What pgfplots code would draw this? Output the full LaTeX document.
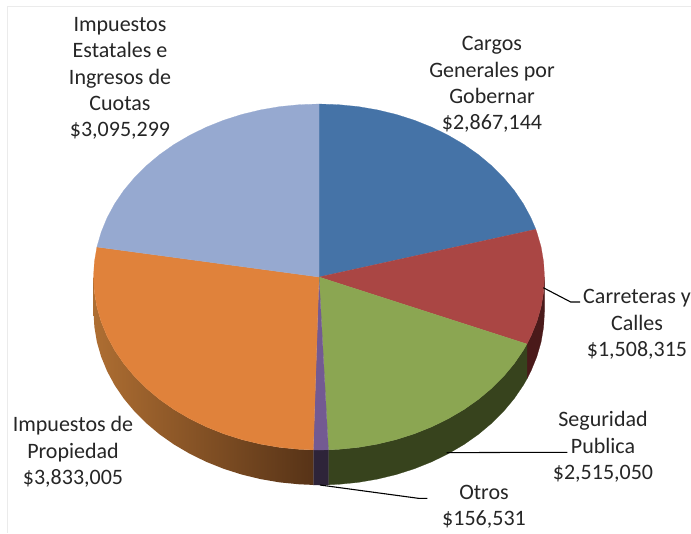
\documentclass[border=0pt]{standalone}
\usepackage{fontspec}
\setmainfont{Carlito}
\usepackage{pgfplots}
\pgfplotsset{compat=1.18}
\definecolor{cBlue}{HTML}{4573A7}
\definecolor{cRed}{HTML}{AA4644}
\definecolor{cGreen}{HTML}{8BA652}
\definecolor{cPurple}{HTML}{735A92}
\definecolor{cOrange}{HTML}{E0823B}
\definecolor{cLight}{HTML}{96A9D0}
\definecolor{sRed}{HTML}{4A1A1A}
\definecolor{sGreen}{HTML}{37431D}
\definecolor{sPurple}{HTML}{2E2439}
\definecolor{sOrL}{HTML}{AE6E32}
\definecolor{sOrM}{HTML}{8A5227}
\definecolor{sOrR}{HTML}{573317}
\definecolor{txt}{HTML}{262626}
\tikzset{lab/.style={text=txt,align=center,font=\fontsize{22}{26.4}\selectfont,inner sep=0pt}}
\begin{document}
\begin{tikzpicture}
\begin{axis}[
  width=691pt,height=533pt,scale only axis,
  xmin=0,xmax=691,ymin=0,ymax=533,y dir=reverse,
  hide axis,clip=true,
]
% canvas and faint frame
\addplot[draw=none,fill=white] coordinates {(0,0)(691,0)(691,533)(0,533)(0,0)};
\addplot[draw=black!8,line width=0.8pt] coordinates {(7.5,533)(7.5,6.5)(691,6.5)};
% sides
\addplot[draw=sRed,fill=sRed,line width=0.2pt] coordinates {
(544.5,277)(543.6,292.1)(541.1,307)(536.8,321.8)(530.9,336.2)(526.9,344)
(526.9,379)(530.9,371.2)(536.8,356.8)(541.1,342)(543.6,327.1)(544.5,312)(544.5,277)};
\addplot[draw=sGreen,fill=sGreen,line width=0.2pt] coordinates {
(526.9,344)(523.4,350.1)(514.3,363.5)(503.7,376.2)(491.7,388.2)(478.5,399.3)(464,409.5)(448.3,418.7)(431.8,426.8)(414.3,433.8)(396.1,439.6)(377.4,444.1)(358.2,447.4)(338.7,449.3)(328.4,449.8)
(328.4,484.8)(338.7,484.3)(358.2,482.4)(377.4,479.1)(396.1,474.6)(414.3,468.8)(431.8,461.8)(448.3,453.7)(464,444.5)(478.5,434.3)(491.7,423.2)(503.7,411.2)(514.3,398.5)(523.4,385.1)(526.9,379)(526.9,344)};
\addplot[draw=sPurple,fill=sPurple,line width=0.2pt] coordinates {
(328.4,449.8)(319,450)(313.3,449.9)(313.3,484.9)(319,485)(328.4,484.8)(328.4,449.8)};
\addplot[draw=none,left color=sOrL,middle color=sOrM,right color=sOrR] coordinates {
(313.3,449.9)(299.3,449.3)(279.8,447.4)(260.6,444.1)(241.9,439.6)(223.7,433.8)(206.2,426.8)(189.7,418.7)(174,409.5)(159.5,399.3)(146.3,388.2)(134.3,376.2)(123.7,363.5)(114.6,350.1)(107.1,336.2)(101.2,321.8)(96.9,307)(94.4,292.1)(93.5,277)
(93.5,312)(94.4,327.1)(96.9,342)(101.2,356.8)(107.1,371.2)(114.6,385.1)(123.7,398.5)(134.3,411.2)(146.3,423.2)(159.5,434.3)(174,444.5)(189.7,453.7)(206.2,461.8)(223.7,468.8)(241.9,474.6)(260.6,479.1)(279.8,482.4)(299.3,484.3)(313.3,484.9)(313.3,449.9)};
% top faces
\addplot[draw=cBlue,fill=cBlue,line width=0.2pt] coordinates {
(319,277)(319,104)(338.7,104.7)(358.2,106.6)(377.4,109.9)(396.1,114.4)(414.3,120.2)(431.8,127.2)(448.3,135.3)(464,144.5)(478.5,154.7)(491.7,165.8)(503.7,177.8)(514.3,190.5)(523.4,203.9)(530.9,217.8)(535.8,229.3)(319,277)};
\addplot[draw=cRed,fill=cRed,line width=0.2pt] coordinates {
(319,277)(535.8,229.3)(536.8,232.2)(541.1,247)(543.6,261.9)(544.5,277)(543.6,292.1)(541.1,307)(536.8,321.8)(530.9,336.2)(526.9,344)(319,277)};
\addplot[draw=cGreen,fill=cGreen,line width=0.2pt] coordinates {
(319,277)(526.9,344)(523.4,350.1)(514.3,363.5)(503.7,376.2)(491.7,388.2)(478.5,399.3)(464,409.5)(448.3,418.7)(431.8,426.8)(414.3,433.8)(396.1,439.6)(377.4,444.1)(358.2,447.4)(338.7,449.3)(328.4,449.8)(319,277)};
\addplot[draw=cPurple,fill=cPurple,line width=0.2pt] coordinates {
(319,277)(328.4,449.8)(319,450)(313.3,449.9)(319,277)};
\addplot[draw=cOrange,fill=cOrange,line width=0.2pt] coordinates {
(319,277)(313.3,449.9)(299.3,449.3)(279.8,447.4)(260.6,444.1)(241.9,439.6)(223.7,433.8)(206.2,426.8)(189.7,418.7)(174,409.5)(159.5,399.3)(146.3,388.2)(134.3,376.2)(123.7,363.5)(114.6,350.1)(107.1,336.2)(101.2,321.8)(96.9,307)(94.4,292.1)(93.5,277)(94.4,261.9)(96.9,247)(319,277)};
\addplot[draw=cLight,fill=cLight,line width=0.2pt] coordinates {
(319,277)(96.9,247)(101.2,232.2)(107.1,217.8)(114.6,203.9)(123.7,190.5)(134.3,177.8)(146.3,165.8)(159.5,154.7)(174,144.5)(189.7,135.3)(206.2,127.2)(223.7,120.2)(241.9,114.4)(260.6,109.9)(279.8,106.6)(299.3,104.7)(319,104)(319,277)};
% leader lines
\addplot[black,line width=1.1pt] coordinates {(543.3,287.7)(570.7,302)(580,302)};
\addplot[black,line width=1.1pt] coordinates {(446.7,452.7)(530,452.3)(567.3,452.3)};
\addplot[black,line width=1.1pt] coordinates {(320,485)(418.3,498.3)(427.3,498.3)};
% labels
\node[lab] at (axis cs:120,78.5) {Impuestos\\Estatales e\\Ingresos de\\Cuotas\\\$3,095,299};
\node[lab] at (axis cs:492,84.5) {Cargos\\Generales por\\Gobernar\\\$2,867,144};
\node[lab] at (axis cs:637,324.5) {Carreteras y\\Calles\\\$1,508,315};
\node[lab] at (axis cs:603,447) {Seguridad\\Publica\\\$2,515,050};
\node[lab] at (axis cs:484,507) {Otros\\\$156,531};
\node[lab] at (axis cs:73,452) {Impuestos de\\Propiedad\\\$3,833,005};
\end{axis}
\end{tikzpicture}
\end{document}
